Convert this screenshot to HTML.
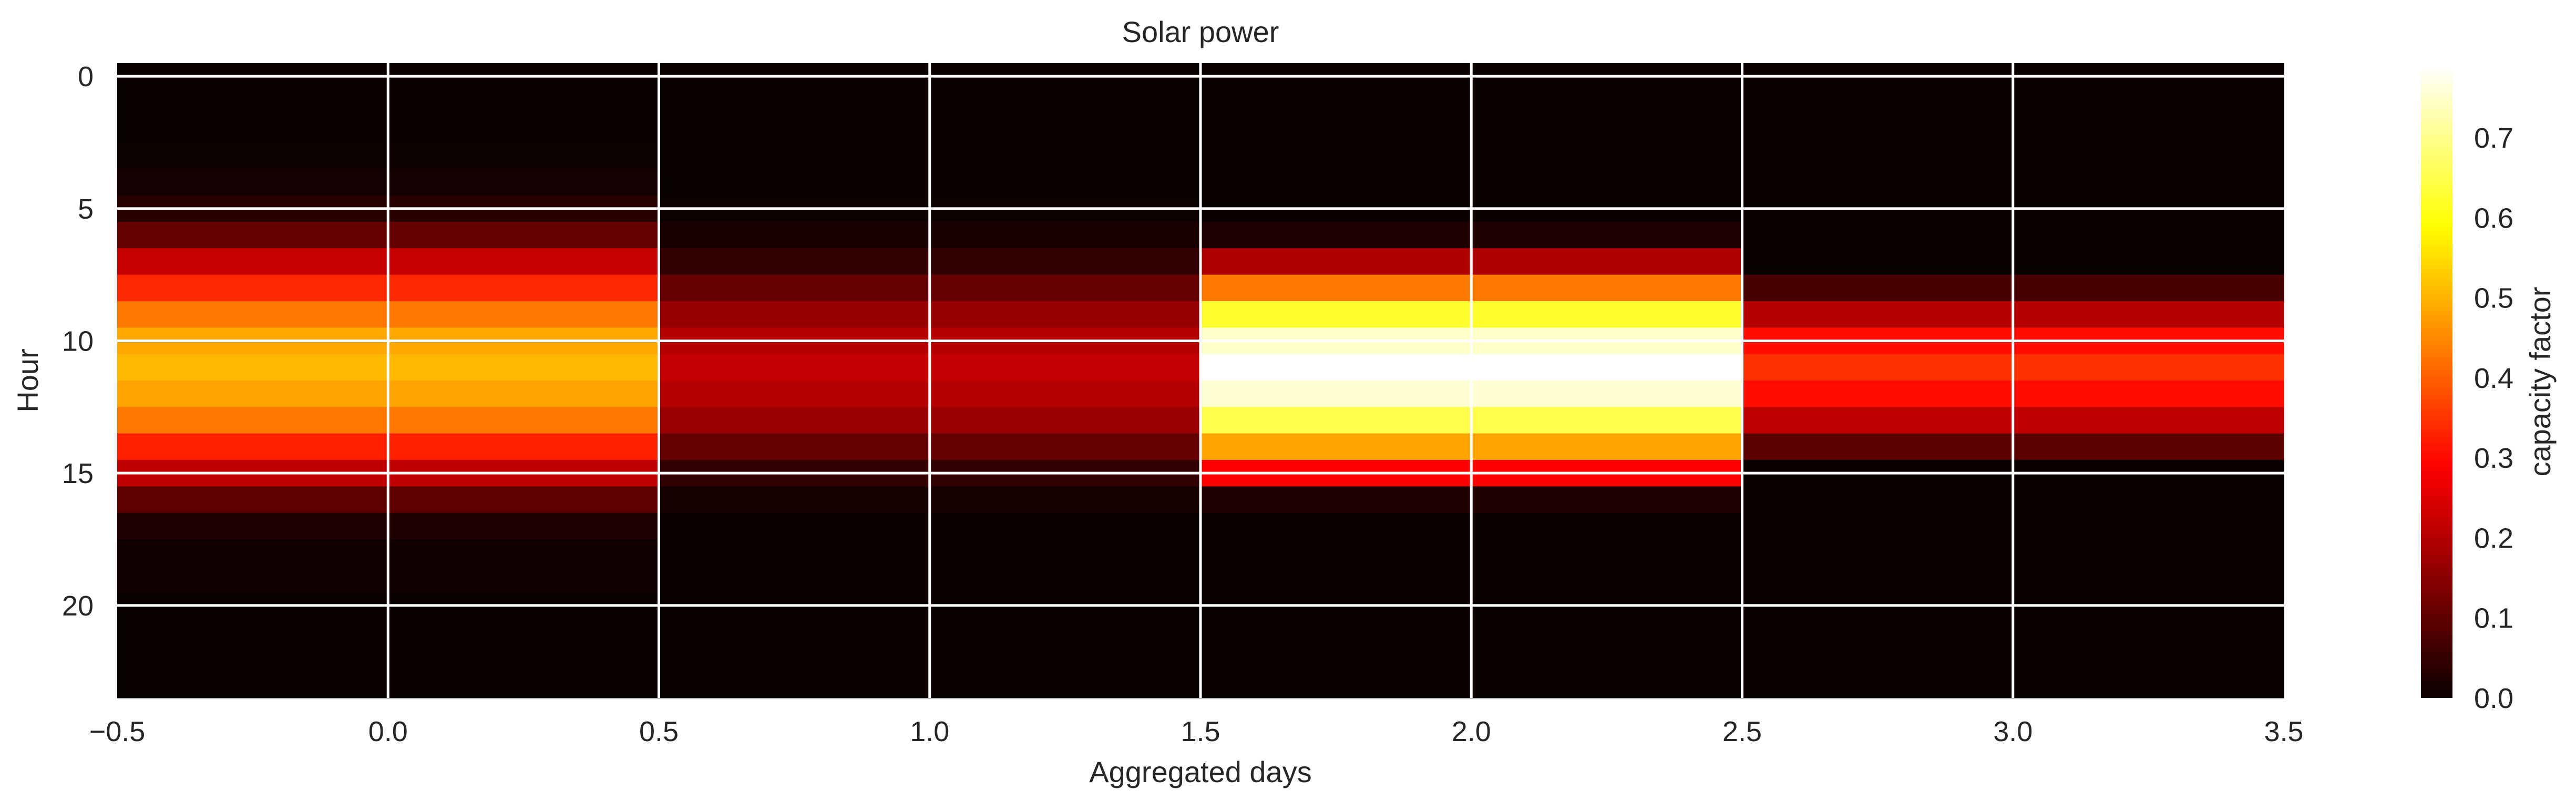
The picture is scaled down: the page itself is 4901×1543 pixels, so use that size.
<!DOCTYPE html>
<html><head><meta charset="utf-8"><style>
html,body{margin:0;padding:0;background:#fff;}
svg text{font-family:"Liberation Sans",Arial,sans-serif;fill:#262626;}
</style></head><body>
<svg id="chart" width="4901" height="1538" viewBox="0 0 4901 1538" xmlns="http://www.w3.org/2000/svg">
<defs><linearGradient id="cbgrad" x1="0" y1="1" x2="0" y2="0"></linearGradient></defs>
<g id="cells"></g>
<g id="grid"></g>
<g id="xticks"></g>
<g id="yticks"></g>
<text x="2284" y="80" font-size="56" text-anchor="middle">Solar power</text>
<text x="2284" y="1488" font-size="56" text-anchor="middle">Aggregated days</text>
<text x="72" y="724" font-size="56" text-anchor="middle" transform="rotate(-90 72 724)">Hour</text>
<rect x="4606" y="125" width="60" height="1203" fill="url(#cbgrad)"/>
<g id="cbticks"></g>
<text x="4852" y="726" font-size="56" text-anchor="middle" transform="rotate(-90 4852 726)">capacity factor</text>
</svg>
<script>
const days = [0, 1, 2, 3];
const hours = [0,1,2,3,4,5,6,7,8,9,10,11,12,13,14,15,16,17,18,19,20,21,22,23];
const day0 = [0,0,0,0.003,0.011,0.035,0.108,0.221,0.336,0.43,0.487,0.505,0.481,0.43,0.326,0.214,0.1,0.025,0.006,0.006,0,0,0,0];
const day1 = [0,0,0,0,0,0.002,0.018,0.048,0.106,0.165,0.2,0.219,0.2,0.169,0.106,0.047,0.015,0,0,0,0,0,0,0];
const day2 = [0,0,0,0,0,0,0.025,0.193,0.43,0.627,0.747,0.79,0.755,0.649,0.482,0.288,0.025,0,0,0,0,0,0,0];
const day3 = [0,0,0,0,0,0,0,0,0.072,0.2,0.302,0.345,0.302,0.214,0.096,0,0,0,0,0,0,0,0,0];
const series = [day0, day1, day2, day3];
const xTicks = [-0.5, 0.0, 0.5, 1.0, 1.5, 2.0, 2.5, 3.0, 3.5];
const xTickLabels = ["\u22120.5","0.0","0.5","1.0","1.5","2.0","2.5","3.0","3.5"];
const yTicks = [0, 5, 10, 15, 20];
const cbTicks = [0.0, 0.1, 0.2, 0.3, 0.4, 0.5, 0.6, 0.7];
const vmin = 0, vmax = 0.79;

const NS = "http://www.w3.org/2000/svg";
const L = 223, R = 4345, T = 120, B = 1328;
const xs = v => L + (v + 0.5) / 4 * (R - L);
const ys = v => T + (v + 0.5) / 24 * (B - T);
const cbY = v => 1328 - (v - vmin) / (vmax - vmin) * 1203;
function clamp(a){return Math.max(0, Math.min(1, a));}
function hot(t){
  t = clamp(t);
  const r = clamp(0.0416 + t * (1 - 0.0416) / 0.365079);
  const g = clamp((t - 0.365079) / (0.746032 - 0.365079));
  const b = clamp((t - 0.746032) / (1 - 0.746032));
  return "rgb(" + Math.round(r*255) + "," + Math.round(g*255) + "," + Math.round(b*255) + ")";
}
function mk(tag, attrs, parent){
  const e = document.createElementNS(NS, tag);
  for (const k in attrs) e.setAttribute(k, attrs[k]);
  parent.appendChild(e);
  return e;
}
const cells = document.getElementById("cells");
series.forEach((col, ci) => {
  col.forEach((v, hi) => {
    const d = days[ci], h = hours[hi];
    const r = mk("rect", {x: xs(d - 0.5), y: ys(h - 0.5), width: xs(d + 0.5) - xs(d - 0.5) + 0.5, height: ys(h + 0.5) - ys(h - 0.5) + 0.5, fill: hot((v - vmin) / (vmax - vmin))}, cells);
    
    
  });
});
const grid = document.getElementById("grid");
xTicks.forEach(v => {
  if (v <= -0.5 || v >= 3.5) return;
  const l = mk("line", {x1: xs(v), x2: xs(v), y1: T, y2: B, stroke: "#fff", "stroke-width": 5}, grid);
  
  
});
yTicks.forEach(v => {
  const l = mk("line", {x1: L, x2: R, y1: ys(v), y2: ys(v), stroke: "#fff", "stroke-width": 5}, grid);
  
  
});
const xt = document.getElementById("xticks");
xTicks.forEach((v, i) => {
  const t = mk("text", {x: xs(v), y: 1410, "font-size": 54, "text-anchor": "middle"}, xt);
  t.textContent = xTickLabels[i];
  
  
});
const yt = document.getElementById("yticks");
yTicks.forEach(v => {
  const t = mk("text", {x: 178, y: ys(v) + 19, "font-size": 54, "text-anchor": "end"}, yt);
  t.textContent = String(v);
  
  
});
const grad = document.getElementById("cbgrad");
for (let i = 0; i <= 40; i++) {
  mk("stop", {offset: (i / 40), "stop-color": hot(i / 40)}, grad);
}
const cbt = document.getElementById("cbticks");
cbTicks.forEach(v => {
  const t = mk("text", {x: 4707, y: cbY(v) + 19, "font-size": 54}, cbt);
  t.textContent = v.toFixed(1);
  
  
});
</script>
</body></html>
